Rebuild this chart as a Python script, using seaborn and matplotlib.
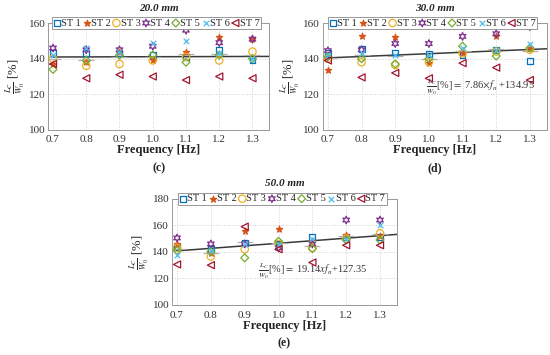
import numpy as np
import pandas as pd
import matplotlib
matplotlib.use("Agg")
import matplotlib.pyplot as plt
import seaborn as sns

freq = [0.7, 0.8, 0.9, 1.0, 1.1, 1.2, 1.3]
stations = ["ST 1", "ST 2", "ST 3", "ST 4", "ST 5", "ST 6", "ST 7"]

# 20.0 mm
d20 = {
    "ST 1": [143, 143, 143, 142, 141, 145, 139],
    "ST 2": [137, 138, 144, 139, 144, 152, 151],
    "ST 3": [140, 136, 137, 139, 141, 139, 144],
    "ST 4": [146, 145, 145, 147, 156, 149, 151],
    "ST 5": [134, 139, 142, 142, 138, 142, 140],
    "ST 6": [142, 146, 144, 149, 150, 143, 140],
    "ST 7": [137, 129, 131, 130, 128, 130, 129],
}
# 30.0 mm
d30 = {
    "ST 1": [143, 145.5, 143.5, 142.5, 142, 145, 138.5],
    "ST 2": [133.5, 152.5, 152, 137.5, 143, 153, 146],
    "ST 3": [140, 138, 136.5, 138, 143, 144, 145],
    "ST 4": [144.5, 145, 148.5, 148.5, 152.5, 154, 158],
    "ST 5": [141, 140, 137, 140, 147, 141.5, 146],
    "ST 6": [142, 143, 142, 142, 146, 145, 148],
    "ST 7": [139, 129.5, 132, 129, 137.5, 135, 128],
}
# 50.0 mm
d50 = {
    "ST 1": [144, 142, 147, 146, 151, 151, 151],
    "ST 2": [146, 139, 156, 157.5, 148, 153, 152],
    "ST 3": [143, 136.5, 142, 146, 143, 150, 154],
    "ST 4": [150.5, 146, 146, 143, 146, 164, 164],
    "ST 5": [141, 140, 135.5, 148, 142.5, 149, 149],
    "ST 6": [138, 141, 146, 145, 150, 150, 160],
    "ST 7": [130.5, 130, 159, 142, 132, 145, 145],
}

fit_slope = [0.5, 7.86, 19.14]
fit_icpt = [140.6, 134.95, 127.35]
titles = ["20.0 mm", "30.0 mm", "50.0 mm"]
letters = ["(c)", "(d)", "(e)"]
eq_text = [None,
           r"$\frac{L_C}{W_0}$[%]$ = $ 7.86$\times f_n$ +134.95",
           r"$\frac{L_C}{W_0}$[%]$ = $ 19.14$x f_n$+127.35"]
eq_pos = [None, (0.99, 124), (0.94, 125)]
ylims = [(100, 160), (100, 160), (100, 180)]

colors = ["#0072BD", "#D95319", "#EDB120", "#7E2F8E", "#77AC30", "#4DBEEE", "#A2142F"]
markers = ["s", "*", "o", (6, 1, 0), "D", "x", "<"]
filled = [False, True, False, False, False, True, False]
sizes = [18, 22, 28, 30, 16, 16, 26]

sns.set_theme(style="whitegrid")
plt.rcParams["font.family"] = ["Liberation Serif", "DejaVu Serif"]
plt.rcParams["mathtext.fontset"] = "stix"

fig = plt.figure(figsize=(5.5, 3.55), dpi=100)
rects = [
    [0.0873, 0.634, 0.402, 0.301],
    [0.587, 0.634, 0.407, 0.301],
    [0.3127, 0.141, 0.409, 0.299],
]

for i, data in enumerate([d20, d30, d50]):
    ax = fig.add_axes(rects[i])
    df = pd.DataFrame(data)
    df["freq"] = freq
    long = df.melt(id_vars="freq", var_name="station", value_name="val")

    # fit line
    xf = np.array([0.7, 1.35])
    ax.plot(xf, fit_slope[i] * xf + fit_icpt[i], color="#3a3a3a", lw=1.1, zorder=1)

    # means per frequency
    means = long.groupby("freq")["val"].mean().reset_index()
    sns.scatterplot(data=means, x="freq", y="val", marker="_", s=140,
                    color="#b0b0b0", linewidth=0.9, ax=ax, zorder=2)

    for j, st in enumerate(stations):
        sub = long[long["station"] == st]
        if filled[j]:
            sns.scatterplot(data=sub, x="freq", y="val", marker=markers[j],
                            s=sizes[j], color=colors[j], edgecolor=colors[j],
                            linewidth=0.9, ax=ax, label=st, zorder=3)
        else:
            sns.scatterplot(data=sub, x="freq", y="val", marker=markers[j],
                            s=sizes[j], facecolor="none", edgecolor=colors[j],
                            linewidth=0.9, ax=ax, label=st, zorder=3)

    ax.set_xlim(0.685, 1.35)
    ax.set_ylim(*ylims[i])
    ax.set_xticks(freq)
    ax.set_xticklabels([f"{f:.1f}" for f in freq])
    ax.set_yticks(np.arange(ylims[i][0], ylims[i][1] + 1, 20))
    ax.tick_params(axis="x", labelsize=8, colors="#333333", pad=4, length=0)
    ax.tick_params(axis="y", labelsize=8, colors="#333333", pad=2, length=0)
    ax.grid(True, color="#d0d0d0", linestyle=":", linewidth=0.7)
    for sp in ax.spines.values():
        sp.set_color("#999999")
        sp.set_linewidth(0.7)
    ax.set_facecolor("white")

    ax.set_xlabel("Frequency [Hz]", fontsize=9, fontweight="bold", labelpad=0)
    ax.set_ylabel(r"$\frac{L_C}{W_0}$ [%]", fontsize=9, labelpad=1)
    ax.set_title(titles[i], fontsize=8, fontweight="bold", style="italic", pad=9)
    ax.text(0.5, -0.36, letters[i], transform=ax.transAxes, ha="center",
            va="center", fontsize=8.5, fontweight="bold")

    if eq_text[i]:
        ax.text(eq_pos[i][0], eq_pos[i][1], eq_text[i], fontsize=7.5,
                color="#333333", va="center")

    leg = ax.legend(loc="center", bbox_to_anchor=(0.49, 1.0), ncol=7,
                    fontsize=7.5, handletextpad=0.05, columnspacing=0.2,
                    handlelength=0.7, borderpad=0.15, borderaxespad=0,
                    frameon=True, fancybox=False, framealpha=1)
    leg.get_frame().set_edgecolor("#888888")
    leg.get_frame().set_linewidth(0.6)

fig.savefig("out.png", dpi=100)
